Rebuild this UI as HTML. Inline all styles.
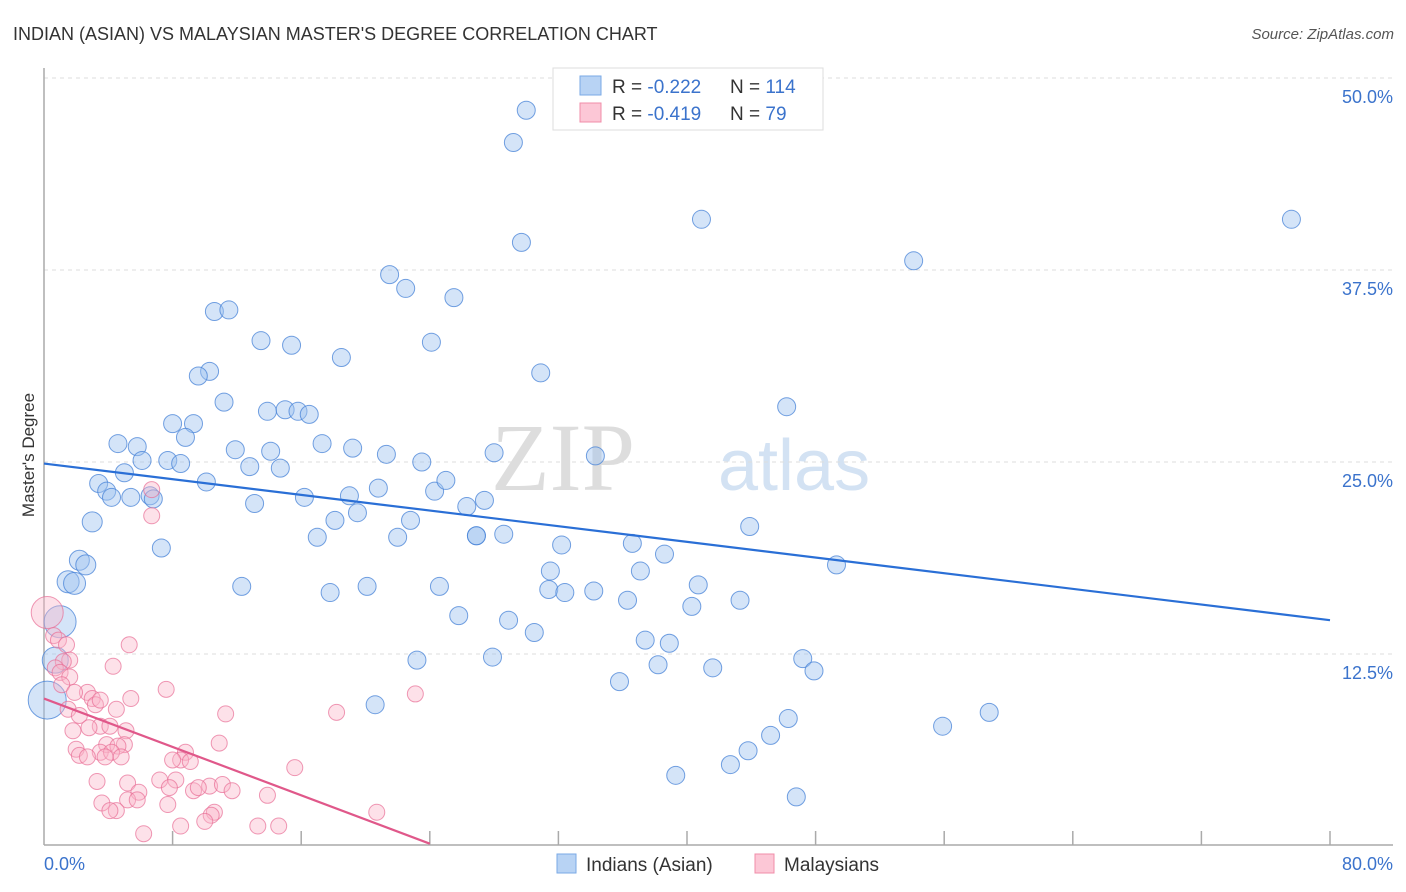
<!DOCTYPE html>
<html><head><meta charset="utf-8">
<style>
body{margin:0;background:#fff;font-family:"Liberation Sans",sans-serif;}
#wrap{position:relative;width:1406px;height:892px;overflow:hidden;}
</style></head>
<body>
<div id="wrap">
<svg id="svg" width="1406" height="892" xmlns="http://www.w3.org/2000/svg">
<text x="13" y="40" font-size="18" fill="#333">INDIAN (ASIAN) VS MALAYSIAN MASTER'S DEGREE CORRELATION CHART</text>
<text x="1394" y="39" font-size="15" fill="#555" font-style="italic" text-anchor="end">Source: ZipAtlas.com</text>
<text x="635" y="490" font-size="96" font-family="Liberation Serif,serif" fill="#ddd" text-anchor="end">ZIP</text>
<text x="718" y="490" font-size="72" fill="#d3e2f3">atlas</text>
<text x="34" y="455" font-size="17" fill="#333" transform="rotate(-90 34 455)" text-anchor="middle">Master's Degree</text>
<g id="grid"></g>
<g id="pts"></g>
<g id="trend"></g>
<rect x="553" y="68" width="270" height="62" fill="#fff" stroke="#ddd"/>
<rect x="580" y="76" width="21" height="19" fill="#b8d3f4" stroke="#7aaae6"/>
<rect x="580" y="103" width="21" height="19" fill="#fcc7d6" stroke="#f08ca8"/>
<text x="612" y="93" font-size="19" fill="#333">R = <tspan fill="#3b73cc">-0.222</tspan></text>
<text x="730" y="93" font-size="19" fill="#333">N = <tspan fill="#3b73cc">114</tspan></text>
<text x="612" y="120" font-size="19" fill="#333">R = <tspan fill="#3b73cc">-0.419</tspan></text>
<text x="730" y="120" font-size="19" fill="#333">N = <tspan fill="#3b73cc"> 79</tspan></text>
<rect x="557" y="854" width="19" height="19" fill="#b8d3f4" stroke="#7aaae6"/>
<text x="586" y="871" font-size="19" fill="#333">Indians (Asian)</text>
<rect x="755" y="854" width="19" height="19" fill="#fcc7d6" stroke="#f08ca8"/>
<text x="784" y="871" font-size="19" fill="#333">Malaysians</text>
</svg>
</div>
<script>
const xTicks=[0,8,16,24,32,40,48,56,64,72,80];
const yTicks=[12.5,25,37.5,50];
const yTickLabels=["12.5%","25.0%","37.5%","50.0%"];
const xEndLabels=["0.0%","80.0%"];
const blueX=[30.0,29.2,40.9,77.6,29.7,54.1,21.5,22.5,25.5,10.6,11.5,13.5,15.4,24.1,18.5,30.9,10.3,9.6,11.2,13.9,15.0,15.8,16.5,46.2,8.0,9.3,8.8,4.6,5.8,11.9,14.1,17.3,19.2,6.1,7.7,8.5,12.8,14.7,21.3,23.5,28.0,34.3,5.0,10.1,3.4,3.9,4.2,5.4,6.6,6.8,16.2,19.0,20.8,24.3,25.0,27.4,13.1,19.5,18.1,22.8,26.3,3.0,43.9,26.9,26.9,28.6,17.0,22.0,32.2,36.6,38.6,7.3,2.2,2.6,1.5,1.9,49.3,31.5,37.1,12.3,20.1,24.6,17.8,31.4,32.4,34.2,40.7,36.3,40.3,43.3,25.8,28.9,30.5,37.4,38.9,1.0,23.2,27.9,38.2,41.6,47.2,47.9,35.8,20.6,58.8,55.9,46.3,45.2,43.8,42.7,39.3,46.8,0.2,0.7];
const blueY=[47.9,45.8,40.8,40.8,39.3,38.1,37.2,36.3,35.7,34.8,34.9,32.9,32.6,32.8,31.8,30.8,30.9,30.6,28.9,28.3,28.4,28.3,28.1,28.6,27.5,27.5,26.6,26.2,26.0,25.8,25.7,26.2,25.9,25.1,25.1,24.9,24.7,24.6,25.5,25.0,25.6,25.4,24.3,23.7,23.6,23.1,22.7,22.7,22.8,22.6,22.7,22.8,23.3,23.1,23.8,22.5,22.3,21.7,21.2,21.2,22.1,21.1,20.8,20.2,20.2,20.3,20.1,20.1,19.6,19.7,19.0,19.4,18.6,18.3,17.2,17.1,18.3,17.9,17.9,16.9,16.9,16.9,16.5,16.7,16.5,16.6,17.0,16.0,15.6,16.0,15.0,14.7,13.9,13.4,13.2,14.6,12.1,12.3,11.8,11.6,12.2,11.4,10.7,9.2,8.7,7.8,8.3,7.2,6.2,5.3,4.6,3.2,9.5,12.1];
const blueR=[9,9,9,9,9,9,9,9,9,9,9,9,9,9,9,9,9,9,9,9,9,9,9,9,9,9,9,9,9,9,9,9,9,9,9,9,9,9,9,9,9,9,9,9,9,9,9,9,9,9,9,9,9,9,9,9,9,9,9,9,9,10,9,9,9,9,9,9,9,9,9,9,10,10,11,11,9,9,9,9,9,9,9,9,9,9,9,9,9,9,9,9,9,9,9,16,9,9,9,9,9,9,9,9,9,9,9,9,9,9,9,9,19,13];
const pinkX=[6.7,6.7,0.2,0.6,0.9,1.4,1.6,1.2,0.7,1.0,1.6,1.1,4.3,5.3,7.6,5.4,2.7,1.9,3.0,3.2,1.5,2.2,4.5,11.3,18.2,23.1,3.5,4.1,5.1,1.8,2.8,3.9,5.0,2.0,4.6,2.2,3.5,2.7,4.2,3.8,4.8,8.8,10.9,8.5,8.0,9.1,15.6,5.2,3.3,7.2,8.2,9.3,10.3,11.1,11.7,9.6,7.8,5.9,5.2,3.6,5.8,13.9,7.7,4.5,4.1,10.6,10.4,10.0,20.7,8.5,13.3,14.6,6.2,3.5];
const pinkY=[23.2,21.5,15.2,13.7,13.4,13.1,12.1,12.0,11.6,11.3,11.0,10.5,11.7,13.1,10.2,9.6,10.0,10.0,9.6,9.2,8.9,8.5,8.9,8.6,8.7,9.9,7.8,7.8,7.5,7.5,7.7,6.6,6.6,6.3,6.5,5.9,6.1,5.8,6.1,5.8,5.8,6.1,6.7,5.6,5.6,5.5,5.1,4.1,4.2,4.3,4.3,3.6,3.9,4.0,3.6,3.8,3.8,3.5,3.0,2.8,3.0,3.3,2.7,2.3,2.3,2.2,2.0,1.6,2.2,1.3,1.3,1.3,0.8,9.5];
const pinkR=[8,8,16,8,8,8,8,8,8,8,8,8,8,8,8,8,8,8,8,8,8,8,8,8,8,8,8,8,8,8,8,8,8,8,8,8,8,8,8,8,8,8,8,8,8,8,8,8,8,8,8,8,8,8,8,8,8,8,8,8,8,8,8,8,8,8,8,8,8,8,8,8,8,8];
const blueTrend=[0,24.9,80,14.7];
const pinkTrend=[0,9.6,24.0,0.15];
const NS='http://www.w3.org/2000/svg';
const X=v=>44+v/80*1286, Y=v=>846-v/50*768;
function mk(tag,attrs,parent){const e=document.createElementNS(NS,tag);for(const k in attrs)e.setAttribute(k,attrs[k]);document.getElementById(parent).appendChild(e);return e;}
yTicks.forEach((t,i)=>{
 const l=mk('line',{x1:44,x2:1393,y1:Y(t),y2:Y(t),stroke:'#ddd','stroke-dasharray':'4 4'},'grid');
 
 
 const tx=mk('text',{x:1393,y:Y(t)+25,'font-size':18,fill:'#3b73cc','text-anchor':'end'},'grid');
 tx.textContent=yTickLabels[i];
 
 
});
const ax=mk('line',{x1:44,x2:1393,y1:845,y2:845,stroke:'#aaa','stroke-width':1.5},'grid');


const ay=mk('line',{x1:44,x2:44,y1:68,y2:845,stroke:'#aaa','stroke-width':1.5},'grid');


xTicks.forEach((t,i)=>{if(i===0)return;
 const l=mk('line',{x1:X(t),x2:X(t),y1:831,y2:845,stroke:'#aaa','stroke-width':1.5},'grid');
 
 
});
const xl0=mk('text',{x:44,y:870,'font-size':18,fill:'#3b73cc'},'grid');xl0.textContent=xEndLabels[0];


const xl1=mk('text',{x:1393,y:870,'font-size':18,fill:'#3b73cc','text-anchor':'end'},'grid');xl1.textContent=xEndLabels[1];


blueX.forEach((v,i)=>{
 const c=mk('circle',{cx:X(v),cy:Y(blueY[i]),r:blueR[i],fill:'rgba(160,196,240,0.45)',stroke:'rgba(70,130,215,0.75)','stroke-width':1},'pts');
 
 
});
pinkX.forEach((v,i)=>{
 const c=mk('circle',{cx:X(v),cy:Y(pinkY[i]),r:pinkR[i],fill:'rgba(250,180,200,0.4)',stroke:'rgba(232,110,150,0.7)','stroke-width':1},'pts');
 
 
});
const bt=mk('line',{x1:X(blueTrend[0]),y1:Y(blueTrend[1]),x2:X(blueTrend[2]),y2:Y(blueTrend[3]),stroke:'#2a6fd6','stroke-width':2.2},'trend');


const pt=mk('line',{x1:X(pinkTrend[0]),y1:Y(pinkTrend[1]),x2:X(pinkTrend[2]),y2:Y(pinkTrend[3]),stroke:'#e0588a','stroke-width':2.2},'trend');


</script>
</body></html>
